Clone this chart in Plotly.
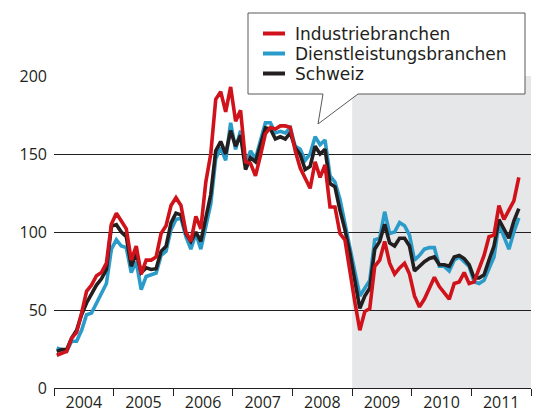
import plotly.graph_objects as go

# Monthly data, Jan 2004 - Oct 2011
start_year = 2004
industrie = [21, 22, 23.5, 32, 35.6, 48, 62, 66, 72, 74, 80, 105,
             112, 107, 102, 82, 91, 73, 82, 82, 84, 99, 104, 117,
             122, 117, 100, 94, 110, 102, 132, 150, 185, 190, 177, 193,
             171, 178, 145, 144, 136, 149, 163, 167, 166, 168, 168, 167,
             152, 141, 134, 128, 145, 135, 143, 116, 116, 99, 95, 74,
             55, 37, 49, 51, 78, 82, 94, 80, 73, 77, 80, 73,
             59, 52, 57, 64, 71, 65, 61, 57, 67, 68, 74, 67,
             68, 76, 85, 97, 98, 117, 108, 114, 120, 135]
dienst = [25.6, 24.6, 23.5, 30, 30, 37, 47, 48, 54.5, 60, 67, 89,
          95, 91, 90, 74, 81, 63, 71.5, 72.6, 73.7, 85, 87.6, 101.5,
          108, 109, 97, 89, 99, 89, 104, 118, 147, 154, 146, 170,
          153, 165, 143, 152, 147, 159, 170, 170, 163.5, 164.5, 163.5, 166.7,
          155, 153, 146, 150, 161, 156, 159, 136, 132, 121, 106, 91,
          74, 59, 64, 69, 95, 96, 113, 99, 100, 106, 104, 98,
          82, 85, 89, 90, 90, 78, 78, 75, 82, 84, 81, 78,
          68, 67, 69, 76, 84, 105, 97, 89, 100, 109]
schweiz = [23.5, 24.6, 24.6, 32, 37, 47, 54.5, 60, 66, 70, 76, 103.6,
           104.7, 100, 97, 78, 86.5, 74, 77, 76, 76.5, 87.6, 90.8, 105.8,
           112, 111, 99, 94, 100, 94, 109, 124, 152, 158, 150, 165,
           155, 162, 140, 147.6, 145, 156, 166.7, 166, 159.6, 161, 159.6, 163.5,
           154, 149.6, 140, 142, 155, 150, 153, 131, 129, 114, 101.5, 86.5,
           67, 51, 59, 64, 89, 94, 105, 93, 91, 96, 96, 91,
           75, 78, 81, 83, 84, 79, 79, 78, 84, 85, 83, 79,
           70.5, 70.5, 72.6, 82, 91, 108, 101.5, 96, 107, 115]
names = ["Industriebranchen", "Dienstleistungsbranchen", "Schweiz"]
colors = ["#d0121b", "#2b9cc9", "#231f20"]
years = list(range(2004, 2012))
y_ticks = [0, 50, 100, 150, 200]
shade_start, shade_end = 2009, 2012

x = [start_year + (i + 0.55) / 12 for i in range(len(industrie))]

FONT = "Open Sans"
LEGEND_FONT = "DejaVu Sans"
fig = go.Figure()
for series, name, color in [(dienst, names[1], colors[1]),
                            (schweiz, names[2], colors[2]),
                            (industrie, names[0], colors[0])]:
    fig.add_trace(go.Scatter(x=x, y=series, mode="lines", name=name,
                             line=dict(color=color, width=3.6),
                             showlegend=False, hoverinfo="skip"))

# shaded period
fig.add_shape(type="rect", xref="x", yref="y", x0=shade_start, x1=shade_end,
              y0=0, y1=200, fillcolor="#e6e7e9", line=dict(width=0), layer="below")

L, T, W, H = 54, 76, 477, 312
def px(xp):
    return (xp - L) / W
def py(yp):
    return (T + H - yp) / H

# legend box with pointer
bx0, by0, bx1, by1 = 248, 13, 525, 94
path = (f"M {px(bx0)},{py(by0)} L {px(bx1)},{py(by0)} L {px(bx1)},{py(by1)} "
        f"L {px(358)},{py(by1)} L {px(318)},{py(124)} L {px(323)},{py(by1)} "
        f"L {px(bx0)},{py(by1)} Z")
fig.add_shape(type="path", xref="paper", yref="paper", path=path,
              fillcolor="white", line=dict(color="#58595b", width=1), layer="above")
rows = [33.5, 53.5, 73.5]
for name, color, ry in zip(names, colors, rows):
    fig.add_shape(type="line", xref="paper", yref="paper",
                  x0=px(263), x1=px(285), y0=py(ry), y1=py(ry),
                  line=dict(color=color, width=4), layer="above")
    fig.add_annotation(xref="paper", yref="paper", x=px(294), y=py(ry),
                       text=name, showarrow=False, xanchor="left", yanchor="middle",
                       borderpad=0,
                       font=dict(family=LEGEND_FONT, size=17, color="#231f20"))

fig.update_layout(
    width=539, height=414,
    margin=dict(l=L, r=539 - L - W, t=T, b=414 - T - H),
    paper_bgcolor="white", plot_bgcolor="white",
    font=dict(family=FONT, size=16, color="#231f20"),
    xaxis=dict(range=[2004, 2012], showgrid=False, zeroline=False, automargin=False,
               showline=True, linecolor="#231f20", linewidth=1,
               tickmode="array", tickvals=[y + 0.5 for y in years],
               ticktext=[str(y) for y in years], ticks="", ticklabelstandoff=0,
               minor=dict(tickmode="array", tickvals=years + [2012], ticks="outside",
                          ticklen=7, tickwidth=1, tickcolor="#231f20", showgrid=False),
               fixedrange=True),
    yaxis=dict(range=[0, 200], tickmode="array", tickvals=y_ticks, automargin=False,
               showgrid=True, gridcolor="#231f20", gridwidth=1, zeroline=False,
               showline=False, ticks="", ticklabelstandoff=6, fixedrange=True),
)
fig.write_html("out.html")
